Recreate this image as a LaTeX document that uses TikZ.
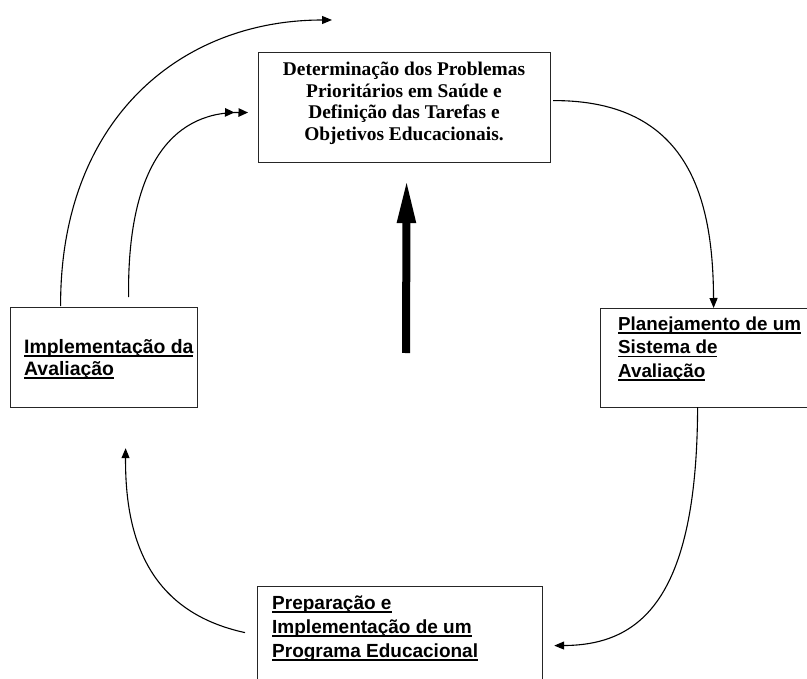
\documentclass[tikz,border=0pt]{standalone}
\usepackage{fontspec}
\setmainfont{Liberation Serif}
\setsansfont{Liberation Sans}
\usetikzlibrary{arrows.meta,calc}

% underlined line of text with a fixed rule position
\newcommand\ulline[1]{\leavevmode\setbox0\hbox{#1}\rlap{\rule[-0.2em]{\wd0}{0.09em}}\box0}

\begin{document}
\begin{tikzpicture}[x=1bp,y=-1bp,
  box/.style={draw=black!85, line width=1.2bp, rectangle, inner sep=0pt, anchor=north west},
  txt/.style={inner sep=0pt, anchor=base west, font=\sffamily\bfseries\fontsize{19bp}{23bp}\selectfont},
  flow/.style={line width=1.1bp, -{Triangle[length=10bp,width=8bp]}},
  dbl/.style={line width=1.1bp, -{Triangle[length=9.5bp,width=8.5bp,sep=4bp]Triangle[length=9.5bp,width=8.5bp,sep=7bp]}},
  bigarrow/.style={line width=8bp, -{Triangle[length=45bp,width=17bp]}}]
\useasboundingbox (0,0) rectangle (807,679);
\clip (0,0) rectangle (807,679);
\fill[white] (0,0) rectangle (807,679);

% boxes
\node[box, minimum width=292bp, minimum height=110bp] (goals) at (258,52) {};
\node[box, minimum width=187bp, minimum height=100bp] (impl) at (10,307) {};
\node[box, minimum width=220bp, minimum height=99bp] (plan) at (600,308) {};
\node[box, minimum width=285bp, minimum height=114bp] (prep) at (257,586) {};

% texts
\node[inner sep=0pt, anchor=base] (goalstext) at (404,76)
  {\parbox[t]{290bp}{\centering\bfseries\fontsize{19.4bp}{21.5bp}\selectfont
   Determinação dos Problemas\\ Prioritários em Saúde e\\ Definição das Tarefas e\\ Objetivos Educacionais.}};
\node[txt] (impltext) at (24,353)
  {\parbox[t]{180bp}{\raggedright\fontsize{19.4bp}{22bp}\selectfont\ulline{Implementação da}\\ \ulline{Avaliação}}};
\node[txt] (plantext) at (618,330)
  {\parbox[t]{200bp}{\raggedright\fontsize{18.8bp}{23.5bp}\selectfont\ulline{Planejamento de um}\\ \ulline{Sistema de}\\ \ulline{Avaliação}}};
\node[txt] (preptext) at (272,609)
  {\parbox[t]{270bp}{\raggedright\fontsize{19bp}{24bp}\selectfont\ulline{Preparação e}\\ \ulline{Implementação de um}\\ \ulline{Programa Educacional}}};

% free ends
\coordinate (topend) at (332,20);
\coordinate (bigbase) at (406,353);
\coordinate (bigtip) at ($(goals.south)+(2,15)$);

% cycle connectors
\draw[flow] ($(goals.east)+(2,-7)$) .. controls (690,100) and (713,200) .. ($(plan.north)+(3,0)$);
\draw[flow] ($(plan.south)+(-13,-1)$) .. controls (697,600) and (640,645) .. ($(prep.east)+(11,2)$);
\draw[flow] ($(prep.west)+(-12,-11)$) .. controls (150,612) and (125,540) .. ($(impl.south)+(21.5,40)$);
\draw[flow] ($(impl.north)+(-43.5,-1)$) .. controls (60,120) and (180,20) .. (topend);
\draw[dbl] ($(impl.north)+(24.5,-10)$) .. controls (127,170) and (170,112) .. ($(goals.west)+(-3,5)$);

% central arrow
\draw[bigarrow] (bigbase) -- (bigtip);
\end{tikzpicture}
\end{document}
